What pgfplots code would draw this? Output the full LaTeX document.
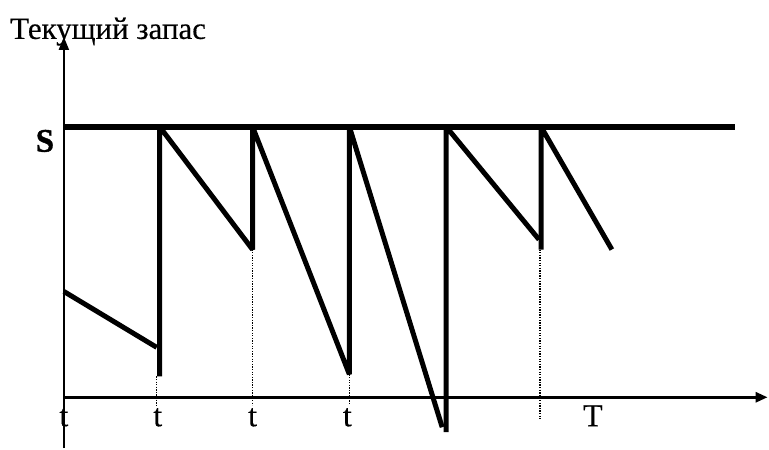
\documentclass[border=0pt]{standalone}
\usepackage{fontspec}
\setmainfont{Liberation Serif}[FakeBold=0.4]
\newfontfamily\boldS{Liberation Serif Bold}[FakeBold=1.2]
\usepackage{pgfplots}
\pgfplotsset{compat=1.18}
\usetikzlibrary{arrows.meta}

\begin{document}
\begin{tikzpicture}
\begin{axis}[
  x=1pt, y=1pt,
  xmin=-64, xmax=705, ymin=-51, ymax=398,
  hide axis, clip=false,
  every axis plot/.append style={black, no marks},
]
% frame of the page
\path (axis cs:-64,-51) rectangle (axis cs:705,398);

% axes
\addplot[line width=2pt, -{Triangle[length=13pt,width=10pt]}]
  coordinates {(0,-51)(0,361)};
\addplot[line width=2.8pt, -{Triangle[length=12pt,width=10pt]}]
  coordinates {(0,0)(705,0)};

% level S
\addplot[line width=5.5pt] coordinates {(0,271)(672,271)};

% dotted drops
\pgfplotsset{drop/.style={line width=1.4pt, dash pattern=on 1.3pt off 1.3pt}}
\addplot[drop] coordinates {(93,21)(93,-10)};
\addplot[drop] coordinates {(189,148)(189,-8)};
\addplot[drop] coordinates {(286,23)(286,-8)};
\addplot[drop] coordinates {(477,148)(477,-22)};

% stock level
\addplot[line width=5pt, line join=bevel] coordinates {(0,106)(93,50)};
\addplot[line width=5pt, line join=bevel]
  coordinates {(96,21)(96,271)(189,148)(189,271)(286,23)(286,271)(379,-30)};
\addplot[line width=5pt, line join=bevel]
  coordinates {(383,-35)(383,271)(476,158)};
\addplot[line width=5pt, line join=bevel]
  coordinates {(478,148)(478,271)(549,148)};

% labels
\node[anchor=base west, inner sep=0pt]
  at (axis cs:-54,359) {\fontsize{31}{36}\selectfont Текущий запас};
\node[anchor=base, inner sep=0pt]
  at (axis cs:-19,246) {\boldS\fontsize{33}{38}\selectfont S};
\foreach \xx in {0,94,189,284} {
  \edef\tmp{\noexpand\node[anchor=base, inner sep=0pt]
    at (axis cs:\xx,-29) {\noexpand\fontsize{32}{36}\noexpand\selectfont t};}
  \tmp
}
\node[anchor=base, inner sep=0pt]
  at (axis cs:530,-29) {\fontsize{32}{36}\selectfont T};
\end{axis}
\end{tikzpicture}
\end{document}
